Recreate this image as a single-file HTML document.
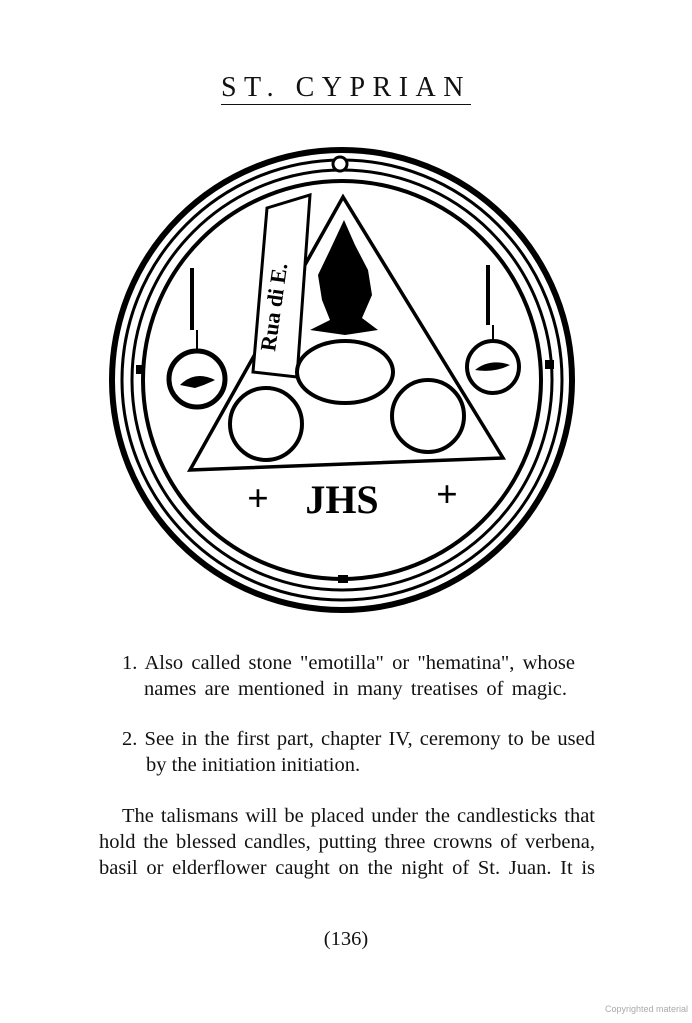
<!DOCTYPE html>
<html><head><style>
body{margin:0;width:692px;height:1023px;background:#fff;position:relative;font-family:"Liberation Serif",serif;color:#111;overflow:hidden}
.t{position:absolute;white-space:nowrap;font-size:20.5px}
.j{position:absolute;font-size:20.5px;text-align:justify;text-align-last:justify;white-space:normal}
</style></head><body>
<div class="t" style="left:0;width:692px;text-align:center;top:72px;font-size:28px;letter-spacing:7.5px;"><span style="border-bottom:1.5px solid #111;padding-bottom:1px">ST. CYPRIAN</span></div>
<svg style="position:absolute;left:0;top:0" width="692" height="1023">
<g fill="none" stroke="#000">
<circle cx="342" cy="380" r="230" stroke-width="6"/>
<circle cx="342" cy="380" r="220" stroke-width="3"/>
<circle cx="342" cy="380" r="210" stroke-width="3"/>
<circle cx="342" cy="380" r="199" stroke-width="4"/>
<polygon points="343,197 190,470 503,458" stroke-width="3.5"/>
<polygon points="267,208 310,195 297,377 253,372" stroke-width="3" fill="#fff"/>
<ellipse cx="345" cy="372" rx="48" ry="31" stroke-width="4"/>
<circle cx="266" cy="424" r="36" stroke-width="4"/>
<circle cx="428" cy="416" r="36" stroke-width="4"/>
<circle cx="197" cy="379" r="28" stroke-width="5"/>
<circle cx="493" cy="367" r="26" stroke-width="4"/>
<line x1="192" y1="268" x2="192" y2="330" stroke-width="4"/>
<line x1="488" y1="265" x2="488" y2="325" stroke-width="4"/>
<line x1="197" y1="330" x2="197" y2="352" stroke-width="2"/>
<line x1="493" y1="325" x2="493" y2="341" stroke-width="2"/>
</g>
<g fill="#000">
<circle cx="340" cy="164" r="7" fill="#fff" stroke="#000" stroke-width="3"/>
<path d="M344,220 L330,250 L318,275 L322,300 L330,320 L310,330 L345,335 L378,330 L362,318 L372,295 L368,270 L355,245 Z"/>
<path d="M180,385 q15,-15 35,-5 q-10,5 -20,8 z"/>
<path d="M475,370 q15,-12 35,-5 q-15,8 -35,5 z"/>
<rect x="136" y="365" width="9" height="9"/>
<rect x="545" y="360" width="9" height="9"/>
<rect x="338" y="575" width="10" height="8"/>
</g>
<text x="275" y="352" transform="rotate(-82 275 352)" font-family="Liberation Serif,serif" font-weight="bold" font-size="22">Rua di E.</text>
<text x="342" y="513" text-anchor="middle" font-family="Liberation Serif,serif" font-weight="bold" font-size="40">JHS</text>
<text x="258" y="511" text-anchor="middle" font-family="Liberation Serif,serif" font-weight="bold" font-size="38">+</text>
<text x="447" y="507" text-anchor="middle" font-family="Liberation Serif,serif" font-weight="bold" font-size="38">+</text>
</svg>
<div class="j" style="left:122px;width:453px;top:652px">1. Also called stone "emotilla" or "hematina", whose</div>
<div class="j" style="left:144px;width:423px;top:678px">names are mentioned in many treatises of magic.</div>
<div class="j" style="left:122px;width:473px;top:728px">2. See in the first part, chapter IV, ceremony to be used</div>
<div class="t" style="left:146px;top:754px">by the initiation initiation.</div>
<div class="j" style="left:122px;width:473px;top:805px">The talismans will be placed under the candlesticks that</div>
<div class="j" style="left:99px;width:496px;top:831px">hold the blessed candles, putting three crowns of verbena,</div>
<div class="j" style="left:99px;width:496px;top:857px">basil or elderflower caught on the night of St. Juan. It is</div>
<div class="t" style="left:0;width:692px;text-align:center;top:928px">(136)</div>
<div class="t" style="right:4px;top:1004px;font-size:9px;color:#aaa;font-family:'Liberation Sans',sans-serif">Copyrighted material</div>
</body></html>
